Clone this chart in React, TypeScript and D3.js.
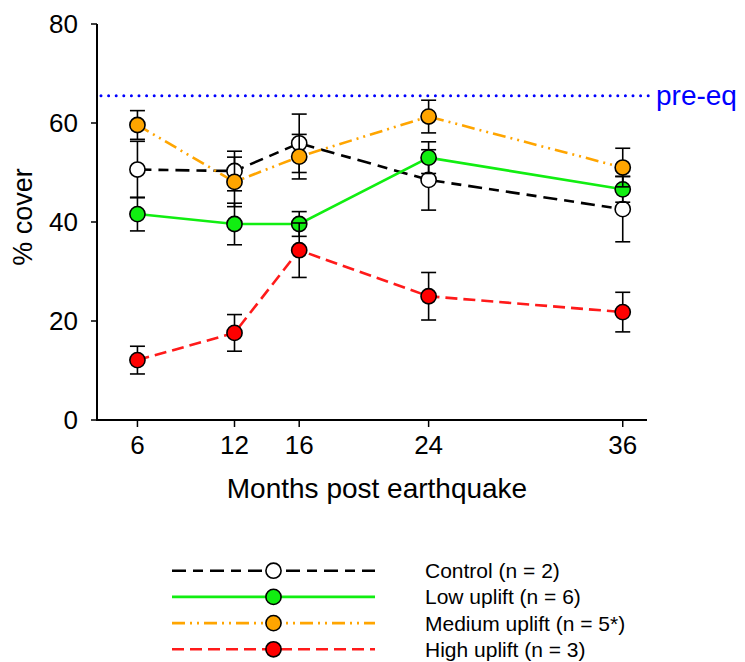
import * as d3 from 'd3';

const months = [6, 12, 16, 24, 36];
const yTicks = [0, 20, 40, 60, 80];
const preEq = 65.5;

const controlMean = [50.6, 50.3, 55.9, 48.5, 42.6];
const controlErr = [5.7, 4.0, 5.9, 6.1, 6.6];
const lowMean = [41.6, 39.6, 39.6, 53.0, 46.6];
const lowErr = [3.4, 4.2, 2.5, 3.2, 2.6];
const mediumMean = [59.6, 48.1, 53.2, 61.3, 51.0];
const mediumErr = [2.9, 5.0, 4.5, 3.3, 3.9];
const highMean = [12.1, 17.6, 34.3, 25.0, 21.8];
const highErr = [2.8, 3.7, 5.5, 4.8, 4.0];

const seriesNames = ['Control (n = 2)', 'Low uplift (n = 6)', 'Medium uplift (n = 5*)', 'High uplift (n = 3)'];

const series = [
  { name: seriesNames[0], mean: controlMean, err: controlErr, line: '#000000', fill: '#ffffff', dash: '14,7,10,7' },
  { name: seriesNames[1], mean: lowMean, err: lowErr, line: '#11ee11', fill: '#11ee11', dash: '' },
  { name: seriesNames[2], mean: mediumMean, err: mediumErr, line: '#ffa500', fill: '#ffa500', dash: '13,5,2,5,2,5' },
  { name: seriesNames[3], mean: highMean, err: highErr, line: '#ff1a1a', fill: '#ff0000', dash: '12,6' },
];

const W = 745;
const H = 662;
const font = 'Arial, "Liberation Sans", sans-serif';

export default function App() {
  const x = d3.scaleLinear().domain([3.5, 37.5]).range([97, 647]);
  const y = d3.scaleLinear().domain([0, 80]).range([420, 24]);
  const line = d3
    .line<number>()
    .x((_, i) => x(months[i]))
    .y((d) => y(d));

  const r = 7.6;
  const cap = 7.5;

  return (
    <svg
      width={W}
      height={H}
      style={{ position: 'absolute', left: 0, top: 0, background: '#fff' }}
      fontFamily={font}
    >
      {/* pre-earthquake reference */}
      <line
        x1={x(3.5) + 4}
        x2={650}
        y1={y(preEq)}
        y2={y(preEq)}
        stroke="#0000ff"
        strokeWidth={3}
        strokeDasharray="0,7.6"
        strokeLinecap="round"
      />
      <text x={656} y={y(preEq) + 9} fontSize={28} fill="#0000ff">
        pre-eq
      </text>

      {/* axes */}
      <line x1={97} x2={97} y1={y(80)} y2={y(0) + 1} stroke="#000" strokeWidth={2} />
      <line x1={96} x2={647} y1={y(0)} y2={y(0)} stroke="#000" strokeWidth={2} />
      {yTicks.map((t) => (
        <g key={t}>
          <line x1={91} x2={97} y1={y(t)} y2={y(t)} stroke="#000" strokeWidth={1.5} />
          <text x={78} y={y(t) + 9} fontSize={26} textAnchor="end">
            {t}
          </text>
        </g>
      ))}
      {months.map((m) => (
        <g key={m}>
          <line x1={x(m)} x2={x(m)} y1={y(0)} y2={y(0) + 7} stroke="#000" strokeWidth={1.5} />
          <text x={x(m)} y={454} fontSize={26} textAnchor="middle">
            {m}
          </text>
        </g>
      ))}
      <text x={377} y={498} fontSize={28} textAnchor="middle">
        Months post earthquake
      </text>
      <text transform="translate(32,217) rotate(-90)" fontSize={27} textAnchor="middle">
        % cover
      </text>

      {/* lines */}
      {series.map((s) => (
        <path
          key={s.name + '-line'}
          d={line(s.mean) ?? ''}
          fill="none"
          stroke={s.line}
          strokeWidth={2.6}
          strokeDasharray={s.dash || undefined}
        />
      ))}

      {/* error bars and markers */}
      {series.map((s) => (
        <g key={s.name + '-pts'}>
          {s.mean.map((v, i) => {
            const cx = x(months[i]);
            const top = y(v + s.err[i]);
            const bot = y(v - s.err[i]);
            return (
              <g key={i} stroke="#000" strokeWidth={1.6}>
                <line x1={cx} x2={cx} y1={top} y2={bot} />
                <line x1={cx - cap} x2={cx + cap} y1={top} y2={top} />
                <line x1={cx - cap} x2={cx + cap} y1={bot} y2={bot} />
              </g>
            );
          })}
          {s.mean.map((v, i) => (
            <circle key={'c' + i} cx={x(months[i])} cy={y(v)} r={r} fill={s.fill} stroke="#000" strokeWidth={1.6} />
          ))}
        </g>
      ))}

      {/* legend */}
      {series.map((s, i) => {
        const ly = 570.7 + i * 26.2;
        return (
          <g key={s.name + '-legend'}>
            <line
              x1={172}
              x2={375}
              y1={ly}
              y2={ly}
              stroke={s.line}
              strokeWidth={2.6}
              strokeDasharray={s.dash || undefined}
            />
            <circle cx={273.5} cy={ly} r={r} fill={s.fill} stroke="#000" strokeWidth={1.6} />
            <text x={425} y={ly + 7.5} fontSize={21}>
              {s.name}
            </text>
          </g>
        );
      })}
    </svg>
  );
}
